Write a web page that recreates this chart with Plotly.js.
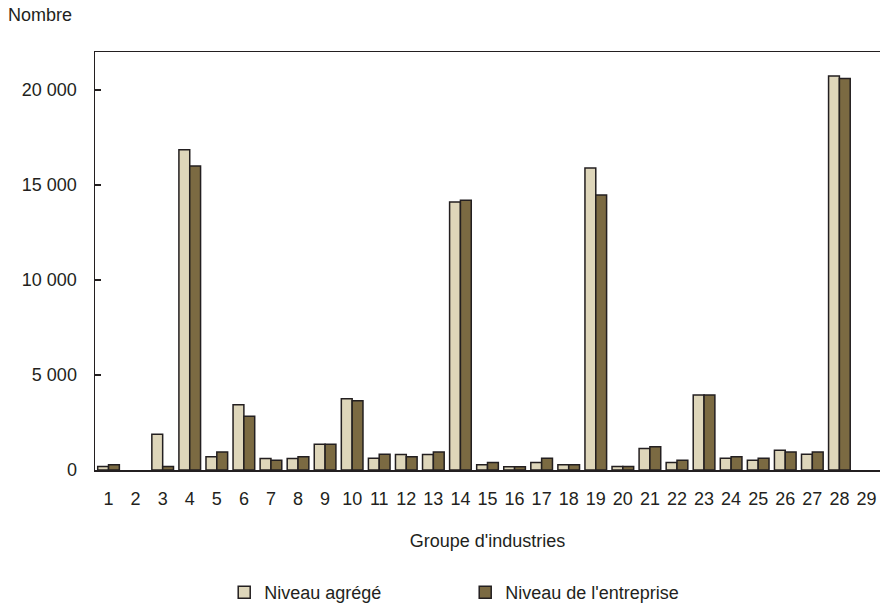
<!DOCTYPE html>
<html>
<head>
<meta charset="utf-8">
<script src="https://cdn.plot.ly/plotly-3.0.1.min.js"></script>
<style>html,body{margin:0;padding:0;background:#fff;}#chart{width:881px;height:607px;}</style>
</head>
<body>
<div id="chart"></div>
<script>
const categories = ["1","2","3","4","5","6","7","8","9","10","11","12","13","14","15","16","17","18","19","20","21","22","23","24","25","26","27","28","29"];
const niveauAgrege = [180,0,1880,16850,700,3440,600,600,1350,3750,615,810,810,14100,280,170,400,280,15900,180,1130,400,3950,615,510,1040,830,20740,0];
const niveauEntreprise = [280,0,180,16000,950,2830,510,700,1350,3650,830,700,950,14200,400,170,615,280,14470,180,1230,510,3950,700,615,950,950,20600,0];
const yTickVals = [0,5000,10000,15000,20000];
const yTickText = ["0","5 000","10 000","15 000","20 000"];

function outline(vals){ return {color:'#231F20', width: vals.map(v => v > 0 ? 1.5 : 0)}; }
const traces = [
  {type:'bar', name:'Niveau agrégé', x:categories, y:niveauAgrege,
   marker:{color:'#DED6BA', line:outline(niveauAgrege)}},
  {type:'bar', name:"Niveau de l'entreprise", x:categories, y:niveauEntreprise,
   marker:{color:'#7B6A42', line:outline(niveauEntreprise)}}
];
const fam = '"Liberation Sans", Arial, sans-serif';
const font = {family:fam, size:18, color:'#231F20'};
const layout = {
  width:881, height:607,
  margin:{l:95, r:1, t:52, b:137, autoexpand:false},
  paper_bgcolor:'#fff', plot_bgcolor:'#fff',
  font:font,
  barmode:'group', bargap:0.2, bargroupgap:0,
  showlegend:true,
  legend:{orientation:'h', xref:'container', x:0.2545, xanchor:'left',
          yref:'container', y:0.024, yanchor:'middle',
          font:{family:fam, size:18, color:'#231F20'},
          entrywidth:196, entrywidthmode:'pixels', itemwidth:30},
  xaxis:{type:'category', showline:true, linecolor:'#231F20', linewidth:1.5, mirror:true,
         ticks:'', showgrid:false, zeroline:false, tickfont:{size:18},
         ticklabelstandoff:12,
         title:{text:"Groupe d'industries", font:{size:18}, standoff:26}},
  yaxis:{range:[0,22000], showline:true, linecolor:'#231F20', linewidth:1.5,
         ticks:'inside', ticklen:6, tickcolor:'#231F20', tickwidth:1.5,
         tickvals:yTickVals, ticktext:yTickText, showgrid:false, zeroline:false,
         tickfont:{size:18}, ticklabelstandoff:13},
  annotations:[{text:'Nombre', xref:'paper', yref:'paper', x:-0.113, y:1.06,
                xanchor:'left', yanchor:'bottom', showarrow:false, font:{size:18}}]
};
Plotly.newPlot('chart', traces, layout, {staticPlot:true, displayModeBar:false});
</script>
</body>
</html>
